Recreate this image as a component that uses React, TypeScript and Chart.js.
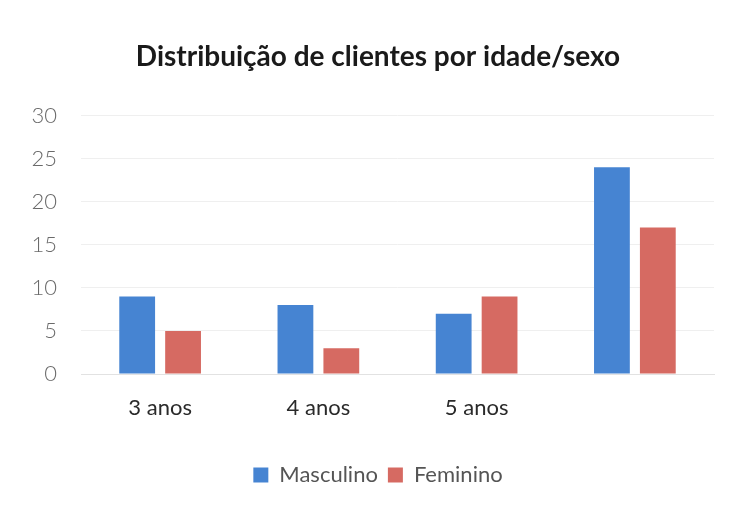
import React, { useEffect, useRef } from "react";
import { Chart, registerables } from "chart.js";

Chart.register(...registerables);

const categories = ["3 anos", "4 anos", "5 anos", ""];
const masculino = [9, 8, 7, 24];
const feminino = [5, 3, 9, 17];
const yTicks = [0, 5, 10, 15, 20, 25, 30];

const FONT = "Lato, 'Open Sans', sans-serif";

export default function App() {
  const ref = useRef<HTMLCanvasElement | null>(null);

  useEffect(() => {
    document.body.style.margin = "0";
    const canvas = ref.current;
    if (!canvas) return;
    const chart = new Chart(canvas, {
      type: "bar",
      data: {
        labels: categories,
        datasets: [
          {
            label: "Masculino",
            data: masculino,
            backgroundColor: "#4684d2",
            categoryPercentage: 0.58,
            barPercentage: 0.78,
          },
          {
            label: "Feminino",
            data: feminino,
            backgroundColor: "#d66a62",
            categoryPercentage: 0.58,
            barPercentage: 0.78,
          },
        ],
      },
      options: {
        responsive: false,
        animation: false,
        layout: { padding: { left: 42, right: 15, top: 0, bottom: 11 } },
        plugins: {
          title: {
            display: true,
            text: "Distribuição de clientes por idade/sexo",
            color: "#1a1a1a",
            font: { family: FONT, size: 28, weight: "bold" },
            padding: { top: 40, bottom: 42 },
          },
          legend: {
            position: "bottom",
            labels: {
              color: "#555555",
              font: { family: FONT, size: 22 },
              boxWidth: 15,
              boxHeight: 15,
              padding: 10,
            },
          },
          tooltip: { enabled: false },
        },
        scales: {
          x: {
            grid: { display: false, drawTicks: false },
            border: { display: true, color: "#e2e2e2" },
            ticks: {
              color: "#2a2a2a",
              font: { family: FONT, size: 22 },
              padding: 21,
            },
            afterFit: (s: any) => {
              s.height = 80;
            },
          },
          y: {
            min: 0,
            max: 30,
            afterBuildTicks: (s: any) => {
              s.ticks = yTicks.map((v) => ({ value: v }));
            },
            grid: { color: "#efefef", drawTicks: false },
            border: { display: false },
            ticks: {
              color: "#6a6a6a",
              font: { family: FONT, size: 22, weight: "300" },
              padding: 24,
            },
            afterFit: (s: any) => {
              s.width = 39;
              s._computeLabelArea = () => undefined;
            },
          },
        },
      },
    });
    return () => chart.destroy();
  }, []);

  return <canvas ref={ref} width={729} height={507} style={{ display: "block" }} />;
}
